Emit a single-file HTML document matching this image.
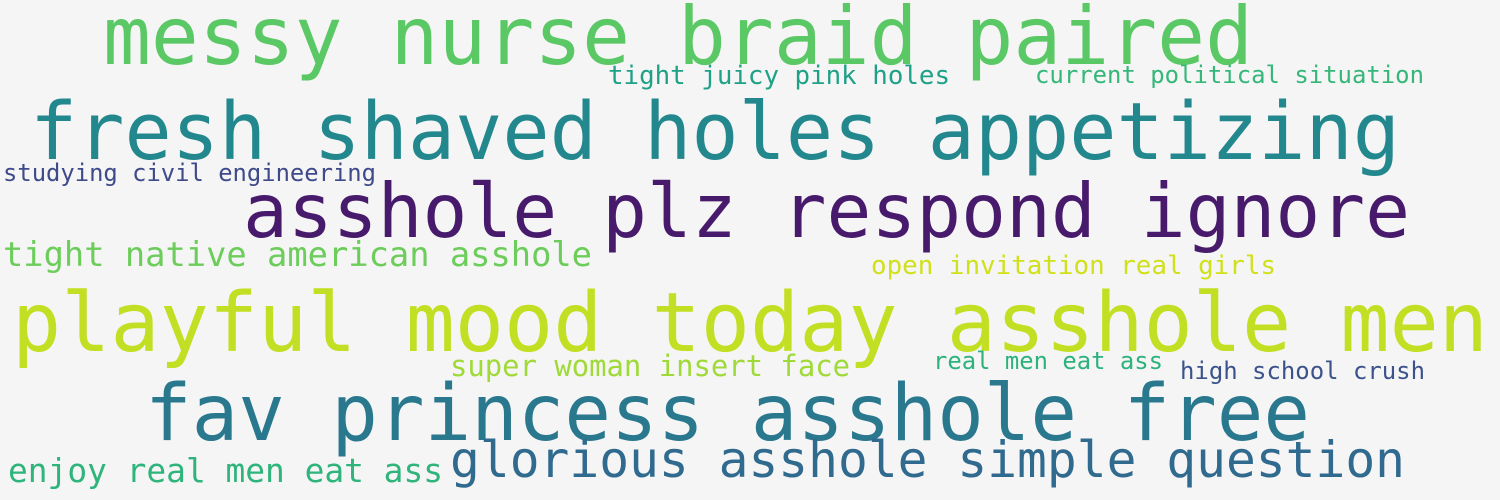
<!DOCTYPE html>
<html><head><meta charset="utf-8"><style>
html,body{margin:0;padding:0;background:#f5f5f5;}
svg{display:block;}
text{font-family:"DejaVu Sans Mono","Liberation Mono",monospace;}
</style></head><body>
<svg width="1500" height="500" viewBox="0 0 1500 500">
<rect width="1500" height="500" fill="#f5f5f5"/>
<text x="103" y="64" font-size="80" fill="#5ac864" textLength="1150" lengthAdjust="spacingAndGlyphs">messy nurse braid paired</text>
<text x="608" y="84" font-size="26" fill="#1fa187" textLength="342" lengthAdjust="spacingAndGlyphs">tight juicy pink holes</text>
<text x="1035" y="83" font-size="24" fill="#35b779" textLength="389" lengthAdjust="spacingAndGlyphs">current political situation</text>
<text x="30" y="159" font-size="79" fill="#23888e" textLength="1370" lengthAdjust="spacingAndGlyphs">fresh shaved holes appetizing</text>
<text x="3" y="181" font-size="24" fill="#3e4a89" textLength="373" lengthAdjust="spacingAndGlyphs">studying civil engineering</text>
<text x="243" y="237" font-size="75" fill="#481a6c" textLength="1167" lengthAdjust="spacingAndGlyphs">asshole plz respond ignore</text>
<text x="3" y="266" font-size="34" fill="#6ccd5a" textLength="589" lengthAdjust="spacingAndGlyphs">tight native american asshole</text>
<text x="871" y="274" font-size="26" fill="#d0e11c" textLength="405" lengthAdjust="spacingAndGlyphs">open invitation real girls</text>
<text x="12" y="351" font-size="82" fill="#c2df23" textLength="1476" lengthAdjust="spacingAndGlyphs">playful mood today asshole men</text>
<text x="450" y="376" font-size="29" fill="#a0da39" textLength="400" lengthAdjust="spacingAndGlyphs">super woman insert face</text>
<text x="933" y="369" font-size="24" fill="#2db27d" textLength="230" lengthAdjust="spacingAndGlyphs">real men eat ass</text>
<text x="1180" y="379" font-size="24" fill="#3b528b" textLength="245" lengthAdjust="spacingAndGlyphs">high school crush</text>
<text x="145" y="440" font-size="78" fill="#2a788e" textLength="1165" lengthAdjust="spacingAndGlyphs">fav princess asshole free</text>
<text x="450" y="477" font-size="50" fill="#306a8e" textLength="955" lengthAdjust="spacingAndGlyphs">glorious asshole simple question</text>
<text x="8" y="482" font-size="33" fill="#2fb47c" textLength="435" lengthAdjust="spacingAndGlyphs">enjoy real men eat ass</text>
</svg>
</body></html>
